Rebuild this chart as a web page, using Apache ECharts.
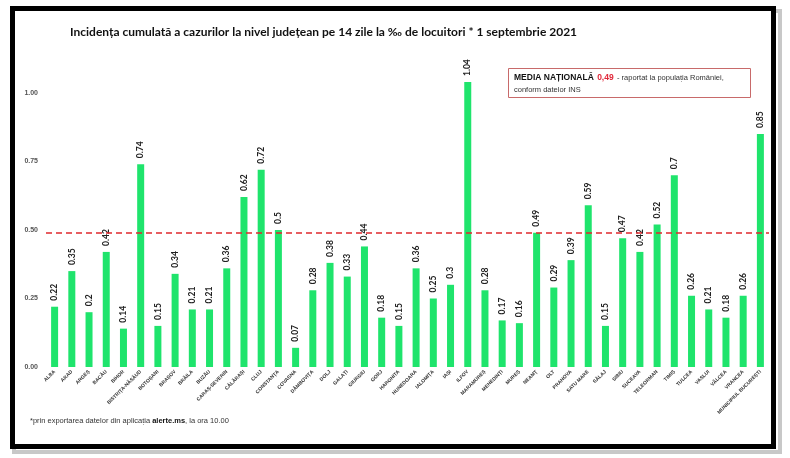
<!DOCTYPE html>
<html>
<head>
<meta charset="utf-8">
<script src="https://cdn.jsdelivr.net/npm/echarts@6/dist/echarts.min.js"></script>
<style>
html,body{margin:0;padding:0;background:#fff;}
#c{width:790px;height:458px;}
</style>
</head>
<body>
<div id="c"></div>
<script>
const categories = ['ALBA','ARAD','ARGEȘ','BACĂU','BIHOR','BISTRIȚA-NĂSĂUD','BOTOȘANI','BRAȘOV','BRĂILA','BUZĂU','CARAȘ-SEVERIN','CĂLĂRAȘI','CLUJ','CONSTANȚA','COVASNA','DÂMBOVIȚA','DOLJ','GALAȚI','GIURGIU','GORJ','HARGHITA','HUNEDOARA','IALOMIȚA','IAȘI','ILFOV','MARAMUREȘ','MEHEDINȚI','MUREȘ','NEAMȚ','OLT','PRAHOVA','SATU MARE','SĂLAJ','SIBIU','SUCEAVA','TELEORMAN','TIMIȘ','TULCEA','VASLUI','VÂLCEA','VRANCEA','MUNICIPIUL BUCUREȘTI'];
const incidence = [0.22,0.35,0.2,0.42,0.14,0.74,0.15,0.34,0.21,0.21,0.36,0.62,0.72,0.5,0.07,0.28,0.38,0.33,0.44,0.18,0.15,0.36,0.25,0.3,1.04,0.28,0.17,0.16,0.49,0.29,0.39,0.59,0.15,0.47,0.42,0.52,0.7,0.26,0.21,0.18,0.26,0.85];
const nationalAverage = 0.49;
const yTicks = [0, 0.25, 0.5, 0.75, 1.0];

const chart = echarts.init(document.getElementById('c'), null, {renderer:'canvas'});
const option = {
  animation: false,
  backgroundColor: '#fff',
  grid: {left: 46, right: 21, top: 24.5, bottom: 91},
  xAxis: {
    type: 'category',
    data: categories,
    axisLine: {show: false},
    axisTick: {show: false},
    axisLabel: {
      interval: 0, rotate: 45, fontSize: 5, fontWeight: 'bold',
      color: '#333', margin: 4, fontFamily: 'Liberation Sans'
    }
  },
  yAxis: {
    type: 'value', min: 0, max: 1.25, interval: 0.25,
    splitLine: {show: false},
    axisLine: {show: false},
    axisTick: {show: false},
    axisLabel: {
      fontSize: 7, fontWeight: 'bold', color: '#555', margin: 8, fontFamily: 'Liberation Sans',
      formatter: v => yTicks.includes(v) ? v.toFixed(2) : ''
    }
  },
  series: [{
    type: 'bar',
    data: incidence,
    barWidth: 7,
    itemStyle: {color: '#1fe46c'},
    label: {
      show: true, position: 'top', rotate: 90, align: 'left', verticalAlign: 'middle',
      distance: 6, fontSize: 8.5, fontWeight: 'bold', color: '#222',
      fontFamily: 'Lato',
      formatter: p => String(p.value)
    },
    markLine: {
      silent: true, symbol: 'none',
      label: {show: false},
      lineStyle: {color: '#e0282e', type: [6, 4], width: 1.5},
      data: [{yAxis: nationalAverage}]
    }
  }],
  graphic: [
    {type: 'rect', z: -2, shape: {x: 14, y: 11, width: 766, height: 441},
     style: {fill: 'rgba(0,0,0,0)', stroke: '#c8c8c8', lineWidth: 4}},
    {type: 'rect', z: -1, shape: {x: 12.5, y: 8.5, width: 761, height: 438},
     style: {fill: '#fff', stroke: '#000', lineWidth: 5}},
    {type: 'text', left: 70, top: 26, style: {
      text: 'Incidența cumulată a cazurilor la nivel județean pe 14 zile la ‰ de locuitori * 1 septembrie 2021',
      font: 'bold 12px Lato', fill: '#111'}},
    {type: 'rect', shape: {x: 508.5, y: 68.5, width: 242, height: 29},
     style: {fill: '#fff', stroke: '#c86a6a', lineWidth: 1}},
    {type: 'text', left: 514, top: 72, style: {
      text: '{b|MEDIA NAȚIONALĂ} {r|0,49} {n|- raportat la populația României,}\n{n|conform datelor INS}',
      rich: {
        b: {font: 'bold 8.5px "Liberation Sans"', fill: '#111', lineHeight: 11},
        r: {font: 'bold 8.5px "Liberation Sans"', fill: '#e0283a', lineHeight: 11},
        n: {font: '7.5px "Liberation Sans"', fill: '#333', lineHeight: 11}
      }}},
    {type: 'text', left: 30, top: 417, style: {
      text: '{n|*prin exportarea datelor din aplicația }{b|alerte.ms}{n|, la ora 10.00}',
      rich: {
        n: {font: '7.5px "Liberation Sans"', fill: '#333'},
        b: {font: 'bold 7.5px "Liberation Sans"', fill: '#111'}
      }}}
  ]
};
chart.setOption(option);
</script>
</body>
</html>
